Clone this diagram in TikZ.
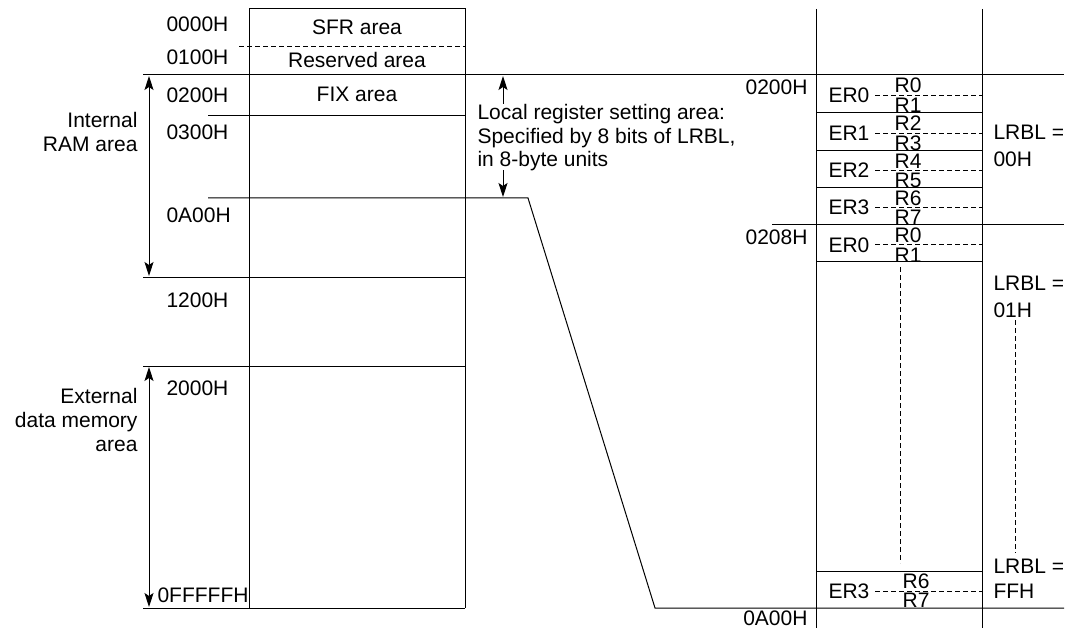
\documentclass[tikz,border=0pt]{standalone}
\usepackage{fontspec}
\setmainfont{Liberation Sans}
\usetikzlibrary{arrows.meta, positioning}

\begin{document}
\begin{tikzpicture}[x=1pt, y=-1pt, line width=1pt,
    lbl/.style={inner sep=0pt, font=\fontsize{21}{24}\selectfont},
    addr/.style={lbl, anchor=base west},
    raddr/.style={lbl, anchor=base east},
    area/.style={lbl, anchor=base},
    rsub/.style={area, text height=15pt, text depth=0pt},
    side/.style={lbl, anchor=base east, align=right},
    lrbl/.style={lbl, anchor=base west, align=left,
                 font=\fontsize{21}{27}\selectfont},
    dsh/.style={dash pattern=on 5pt off 3pt},
    arr/.style={-{Stealth[length=14pt, width=9pt, inset=3pt]}},
    darr/.style={{Stealth[length=14pt, width=9pt, inset=3pt]}-{Stealth[length=14pt, width=9pt, inset=3pt]}},
  ]
  \useasboundingbox (0,0) rectangle (1070,628);

  % memory map, left
  \coordinate (mtl) at (249,9);
  \coordinate (mtr) at (465,9);
  \coordinate (mbl) at (249,608);
  \coordinate (mbr) at (465,608);
  \draw (mbl) -- (mtl) -- (mtr) -- (mbr);
  \draw[dsh] (239,47) -- (465,47);
  \draw (143,75) -- (1064,75);
  \draw (208,116) -- (465,116);
  \draw (143,277) -- (465,277);
  \draw (143,366) -- (465,366);
  \draw (143,608) -- (mbr);

  % local register area, zoomed
  \coordinate (kneeA) at (528,198);
  \coordinate (kneeB) at (655,608);
  \draw (208,198) -- (kneeA) -- (kneeB) -- (1064,608);

  \node[addr] (a0000) at (166,32)  {0000H};
  \node[addr] (a0100) at (166,65)  {0100H};
  \node[addr] (a0200) at (166,103) {0200H};
  \node[addr] (a0300) at (166,140) {0300H};
  \node[addr] (a0A00) at (166,223) {0A00H};
  \node[addr] (a1200) at (166,307) {1200H};
  \node[addr] (a2000) at (166,395) {2000H};
  \node[addr] (aFFFF) at (157,602) {0FFFFFH};

  \node[area] (sfr) at (357,35)  {SFR area};
  \node[area] (rsv) at (357,68)  {Reserved area};
  \node[area] (fix) at (357,102) {FIX area};

  \node[side] (iram) at (138,152) {Internal\\RAM area};
  \node[side] (xram) at (138,451) {External\\data memory\\area};
  \draw[darr] (149,76) -- (149,276);
  \draw[darr] (149,367) -- (149,607);

  \node[lbl, anchor=base west, align=left,
        font=\fontsize{21}{23.5}\selectfont] (note) at (477,167)
    {Local register setting area:\\Specified by 8 bits of LRBL,\\in 8-byte units};
  \draw[arr] (503,104) -- (503,76);
  \draw[arr] (503,170) -- (503,197);

  % register bank, right
  \draw (816,9) -- (816,628);
  \draw (982,9) -- (982,628);
  \foreach \y in {113,151,188,262,571}
    \draw (816,\y) -- (982,\y);
  \draw (772,225) -- (1064,225);

  \foreach \m/\er/\ra/\rb in {94/ER0/R0/R1, 132/ER1/R2/R3, 169.5/ER2/R4/R5,
                              206.5/ER3/R6/R7, 243.5/ER0/R0/R1}{
    \node[lbl, anchor=base west] at (828,\m+8.5) {\er};
    \draw[dsh] (875,\m+1.5) -- (982,\m+1.5);
    \node[rsub] at (908,\m-1) {\ra};
    \node[rsub] at (908,\m+18.5) {\rb};
  }
  \node[lbl, anchor=base west] (er3last) at (828,598) {ER3};
  \draw[dsh] (875,591) -- (982,591);
  \node[rsub] (r6last) at (916,588) {R6};
  \node[rsub] (r7last) at (916,607.5) {R7};

  \draw[dsh] (900,267) -- (900,563);
  \draw[dsh] (1015,320) -- (1015,553);

  \node[raddr] (b0200) at (808,95)  {0200H};
  \node[raddr] (b0208) at (808,245) {0208H};
  \node[raddr] (b0A00) at (808,625) {0A00H};

  \node[lrbl] (l00) at (993,167) {LRBL =\\00H};
  \node[lrbl] (l01) at (993,317) {LRBL =\\01H};
  \node[lrbl, font=\fontsize{21}{25}\selectfont] (lFF) at (993,598) {LRBL =\\FFH};
\end{tikzpicture}
\end{document}
